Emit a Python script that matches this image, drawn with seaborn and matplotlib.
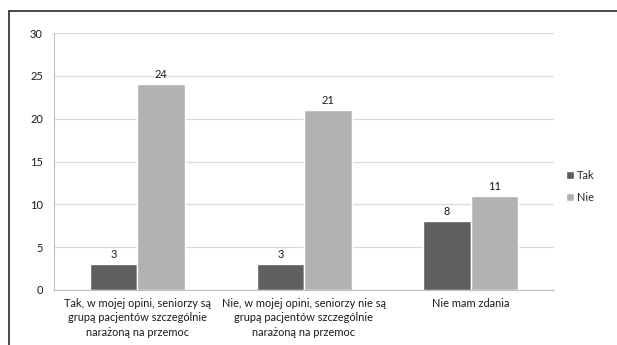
import matplotlib
matplotlib.use("Agg")
import matplotlib.pyplot as plt
from matplotlib.lines import Line2D
import seaborn as sns
import pandas as pd

categories = [
    "Tak, w mojej opini, seniorzy są\ngrupą pacjentów szczególnie\nnarażoną na przemoc",
    "Nie, w mojej opini, seniorzy nie są\ngrupą pacjentów szczególnie\nnarażoną na przemoc",
    "Nie mam zdania",
]
series = ["Tak", "Nie"]
tak_values = [3, 3, 8]
nie_values = [24, 21, 11]
y_ticks = [0, 5, 10, 15, 20, 25, 30]

colors = {"Tak": "#5f5f5f", "Nie": "#b2b2b2"}

df = pd.DataFrame({
    "kategoria": categories * 2,
    "seria": ["Tak"] * 3 + ["Nie"] * 3,
    "wartosc": tak_values + nie_values,
})

sns.set_theme(style="white")
plt.rcParams["font.family"] = ["Lato", "DejaVu Sans"]

FS = 7.9

fig = plt.figure(figsize=(6.17, 3.45), dpi=100)
ax = fig.add_axes([54 / 617, 55 / 345, 500 / 617, 257 / 345])

sns.barplot(data=df, x="kategoria", y="wartosc", hue="seria", order=categories,
            hue_order=series, palette=colors, width=0.57, gap=0, saturation=1,
            ax=ax, legend=True)

for container in ax.containers:
    ax.bar_label(container, padding=3, fontsize=FS, color="#1a1a1a")

ax.set_xlim(-0.5, 2.5)
ax.set_ylim(0, 30)
ax.set_yticks(y_ticks)
ax.set_yticklabels([str(v) for v in y_ticks], fontsize=FS, color="#1a1a1a")
ax.set_xlabel("")
ax.set_ylabel("")
ax.tick_params(axis="x", which="major", length=0, pad=6, labelsize=FS, labelcolor="#1a1a1a")
ax.set_xticks([-0.5, 0.5, 1.5, 2.5], minor=True)
ax.tick_params(axis="x", which="minor", length=4, color="#bfbfbf", width=0.8, direction="out")
ax.tick_params(axis="y", length=4, color="#bfbfbf", width=0.8, direction="out", pad=4)
for lbl in ax.get_xticklabels():
    lbl.set_linespacing(1.35)

ax.yaxis.grid(True, color="#d9d9d9", linewidth=0.9)
ax.set_axisbelow(True)
for side in ["top", "right"]:
    ax.spines[side].set_visible(False)
for side in ["left", "bottom"]:
    ax.spines[side].set_color("#bfbfbf")
    ax.spines[side].set_linewidth(0.8)

leg = ax.legend(loc="upper left", bbox_to_anchor=(566 / 617, 175 / 345),
                bbox_transform=fig.transFigure, frameon=False, fontsize=FS,
                handlelength=0.7, handleheight=0.7, handletextpad=0.3,
                labelspacing=1.0, borderaxespad=0, borderpad=0)

# outer chart border
fig.add_artist(Line2D([9 / 617, 9 / 617], [0, 1 - 11 / 345], transform=fig.transFigure,
                      color="#3a3a3a", linewidth=1.3))
fig.add_artist(Line2D([9 / 617, 1], [1 - 11 / 345, 1 - 11 / 345], transform=fig.transFigure,
                      color="#3a3a3a", linewidth=1.3))

fig.savefig("out.png", dpi=100)
